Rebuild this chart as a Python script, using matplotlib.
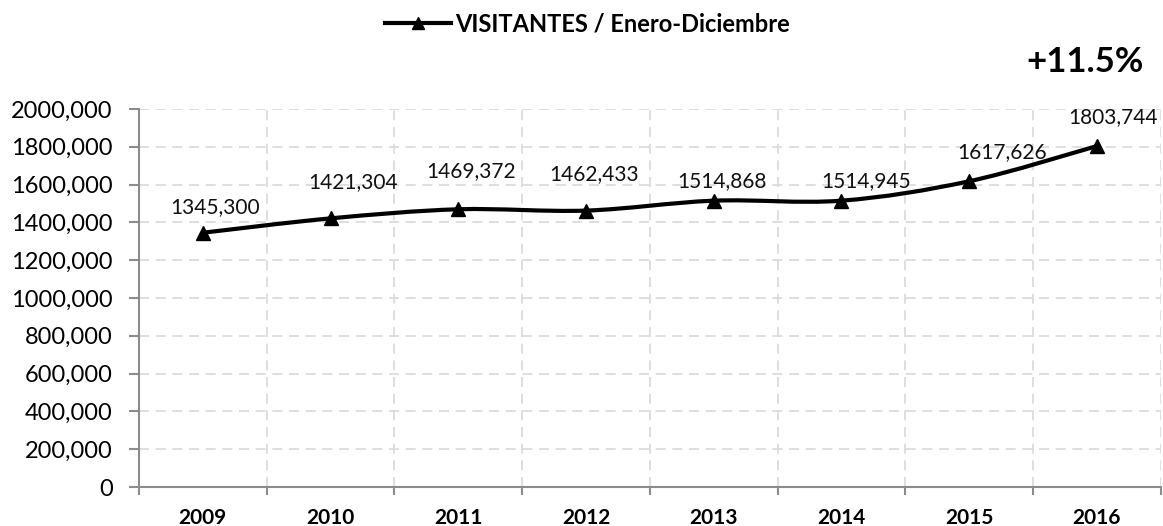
import matplotlib
matplotlib.use("Agg")
import matplotlib.pyplot as plt
from matplotlib.path import Path
from matplotlib.patches import PathPatch
from matplotlib.lines import Line2D
from matplotlib.ticker import FuncFormatter, MultipleLocator, FixedLocator

years = ["2009", "2010", "2011", "2012", "2013", "2014", "2015", "2016"]
visitors = [1345300, 1421304, 1469372, 1462433, 1514868, 1514945, 1617626, 1803744]
value_labels = ["1345,300", "1421,304", "1469,372", "1462,433",
                "1514,868", "1514,945", "1617,626", "1803,744"]
series_name = "VISITANTES / Enero-Diciembre"
growth_text = "+11.5%"

FONT = ["Lato", "DejaVu Sans"]
plt.rcParams["font.family"] = FONT

fig = plt.figure(figsize=(11.63, 5.26), dpi=100)
ax = fig.add_axes([0.1195, 0.0741, 0.8785, 0.7187])

xs = list(range(len(years)))

# smooth curve (Catmull-Rom -> cubic Bezier, like Excel smoothed lines)
pts = list(zip(xs, visitors))
verts = [pts[0]]
codes = [Path.MOVETO]
n = len(pts)
for i in range(n - 1):
    p0 = pts[i - 1] if i > 0 else pts[i]
    p1 = pts[i]
    p2 = pts[i + 1]
    p3 = pts[i + 2] if i + 2 < n else pts[i + 1]
    c1 = (p1[0] + (p2[0] - p0[0]) / 6, p1[1] + (p2[1] - p0[1]) / 6)
    c2 = (p2[0] - (p3[0] - p1[0]) / 6, p2[1] - (p3[1] - p1[1]) / 6)
    verts += [c1, c2, p2]
    codes += [Path.CURVE4] * 3
patch = PathPatch(Path(verts, codes), facecolor="none", edgecolor="black",
                  lw=3.0, capstyle="round", joinstyle="round", zorder=3)
ax.add_patch(patch)
ax.plot(xs, visitors, linestyle="none", marker="^", color="black",
        markersize=10, zorder=4)

# value labels
offsets = [(9, 11), (16, 19), (9, 20), (6, 19), (6, 7), (18, 7), (24, 14), (12, 14)]
for x, y, lab, (dx, dy) in zip(xs, visitors, value_labels, offsets):
    ax.annotate(lab, (x, y), xytext=(dx, dy), textcoords="offset points",
                ha="center", va="bottom", fontsize=15, color="#111111")

ax.set_xlim(-0.5, len(years) - 0.5)
ax.set_ylim(0, 2000000)
ax.yaxis.set_major_locator(MultipleLocator(200000))

def yfmt(v, pos):
    v = int(round(v))
    if v == 0:
        return "0"
    return f"{v // 1000},{v % 1000:03d}"

ax.yaxis.set_major_formatter(FuncFormatter(yfmt))
ax.set_xticks(xs)
ax.set_xticklabels(years, fontweight="bold", fontsize=15)
ax.tick_params(axis="x", which="major", length=0, pad=15)
ax.xaxis.set_minor_locator(FixedLocator([i - 0.5 for i in range(len(years) + 1)]))
ax.tick_params(axis="x", which="minor", length=6, width=1.5, color="#8c8c8c")
ax.tick_params(axis="y", length=7, width=1.5, color="#8c8c8c", labelsize=17, pad=12)

ax.grid(axis="y", which="major", linestyle=(0, (6, 4)), color="#d9d9d9", lw=1.2)
ax.grid(axis="x", which="minor", linestyle=(0, (6, 4)), color="#d9d9d9", lw=1.2)
ax.set_axisbelow(True)
for s in ["top", "right"]:
    ax.spines[s].set_visible(False)
for s in ["left", "bottom"]:
    ax.spines[s].set_color("#8c8c8c")
    ax.spines[s].set_linewidth(1.5)

handle = Line2D([], [], color="black", lw=3, marker="^", markersize=9)
fig.legend([handle], [series_name], loc="center", bbox_to_anchor=(0.505, 0.955),
           frameon=False, prop={"weight": "bold", "size": 17, "family": FONT},
           handlelength=2.8, handletextpad=0.2)

fig.text(0.933, 0.882, growth_text, ha="center", va="center",
         fontsize=25, fontweight="bold")

fig.savefig("out.png", dpi=100)
